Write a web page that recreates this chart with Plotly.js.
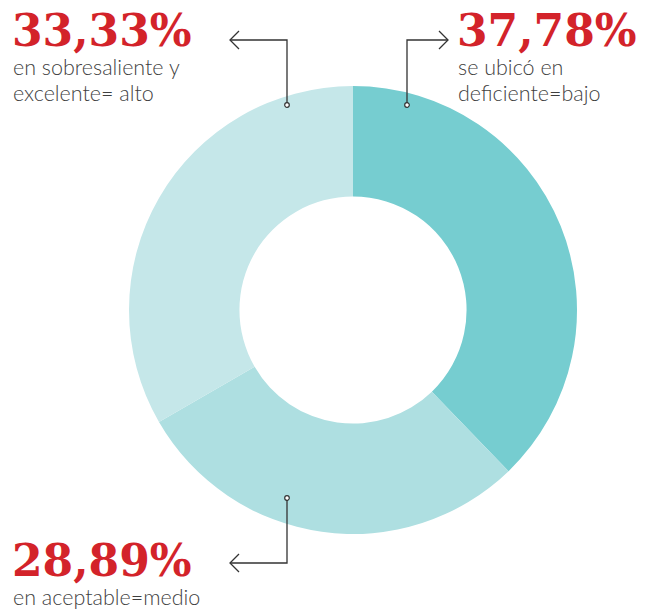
<!DOCTYPE html>
<html>
<head>
<meta charset="utf-8">
<script src="https://cdn.plot.ly/plotly-3.0.1.min.js"></script>
<style>html,body{margin:0;padding:0;background:#fff;}#chart{width:652px;height:612px;}</style>
</head>
<body>
<div id="chart"></div>
<script>
// Data
const categories = ['deficiente=bajo', 'aceptable=medio', 'sobresaliente y excelente=alto'];
const values = [37.78, 28.89, 33.33];
const pctLabels = ['37,78%', '28,89%', '33,33%'];
const descLines = [['se ubicó en', 'deficiente=bajo'], ['en aceptable=medio'], ['en sobresaliente y', 'excelente= alto']];
const colors = ['#76CDD0', '#AEDFE1', '#C5E7E9'];

const W = 652, H = 612;
const px = x => x / W;
const py = y => 1 - y / H;

const trace = {
  type: 'pie',
  labels: categories,
  values: values,
  sort: false,
  direction: 'clockwise',
  rotation: 0,
  hole: 0.507,
  textinfo: 'none',
  hoverinfo: 'label+percent',
  marker: {colors: colors, line: {width: 0}},
  domain: {x: [px(129), px(577)], y: [py(534), py(86)]},
  showlegend: false
};

const red = '#D3232A';
const gray = '#3f3f3f';
const numFont = {family: 'DejaVu Serif', size: 44, color: red, weight: 'bold'};
const txtFont = {family: 'Lato', size: 21.5, color: gray, weight: 300};

// label blocks: x, number baseline, first text baseline
const blocks = [
  {x: 458, nb: 45, lb: 75},   // 37,78%
  {x: 13, nb: 575, lb: 605},  // 28,89%
  {x: 13, nb: 45, lb: 75}     // 33,33%
];

const annotations = [];
blocks.forEach((b, i) => {
  annotations.push({
    xref: 'paper', yref: 'paper', x: px(b.x - 2), y: py(b.nb - 15),
    xanchor: 'left', yanchor: 'middle', showarrow: false, borderpad: 0,
    text: '<b>' + pctLabels[i] + '</b>', font: numFont
  });
  descLines[i].forEach((ln, j) => {
    annotations.push({
      xref: 'paper', yref: 'paper', x: px(b.x - 1), y: py(b.lb + j * 26 - 8),
      xanchor: 'left', yanchor: 'middle', showarrow: false, borderpad: 0,
      text: ln, font: txtFont
    });
  });
});

const lc = '#333333';
const shapes = [];
function path(points) {
  return 'M ' + points.map(p => px(p[0]) + ',' + py(p[1])).join(' L ');
}
function addPath(points) {
  shapes.push({type: 'path', xref: 'paper', yref: 'paper', path: path(points), line: {color: lc, width: 1.3}});
}
function addDot(x, y) {
  const r = 2.3;
  shapes.push({type: 'circle', xref: 'paper', yref: 'paper', x0: px(x - r), x1: px(x + r), y0: py(y + r), y1: py(y - r),
    fillcolor: '#ffffff', line: {color: lc, width: 1.2}});
}
// top-left connector
addPath([[287, 103], [287, 40], [230, 40]]);
addPath([[239, 31], [230, 40], [239, 49]]);
addDot(287, 105);
// top-right connector
addPath([[407, 103], [407, 40], [448, 40]]);
addPath([[439, 31], [448, 40], [439, 49]]);
addDot(407, 105);
// bottom connector
addPath([[287, 500], [287, 563], [230, 563]]);
addPath([[239, 554], [230, 563], [239, 572]]);
addDot(287, 498);

const layout = {
  width: W, height: H,
  margin: {l: 0, r: 0, t: 0, b: 0},
  paper_bgcolor: '#ffffff',
  plot_bgcolor: '#ffffff',
  showlegend: false,
  annotations: annotations,
  shapes: shapes
};

Plotly.newPlot('chart', [trace], layout, {displayModeBar: false, staticPlot: true});
</script>
</body>
</html>
